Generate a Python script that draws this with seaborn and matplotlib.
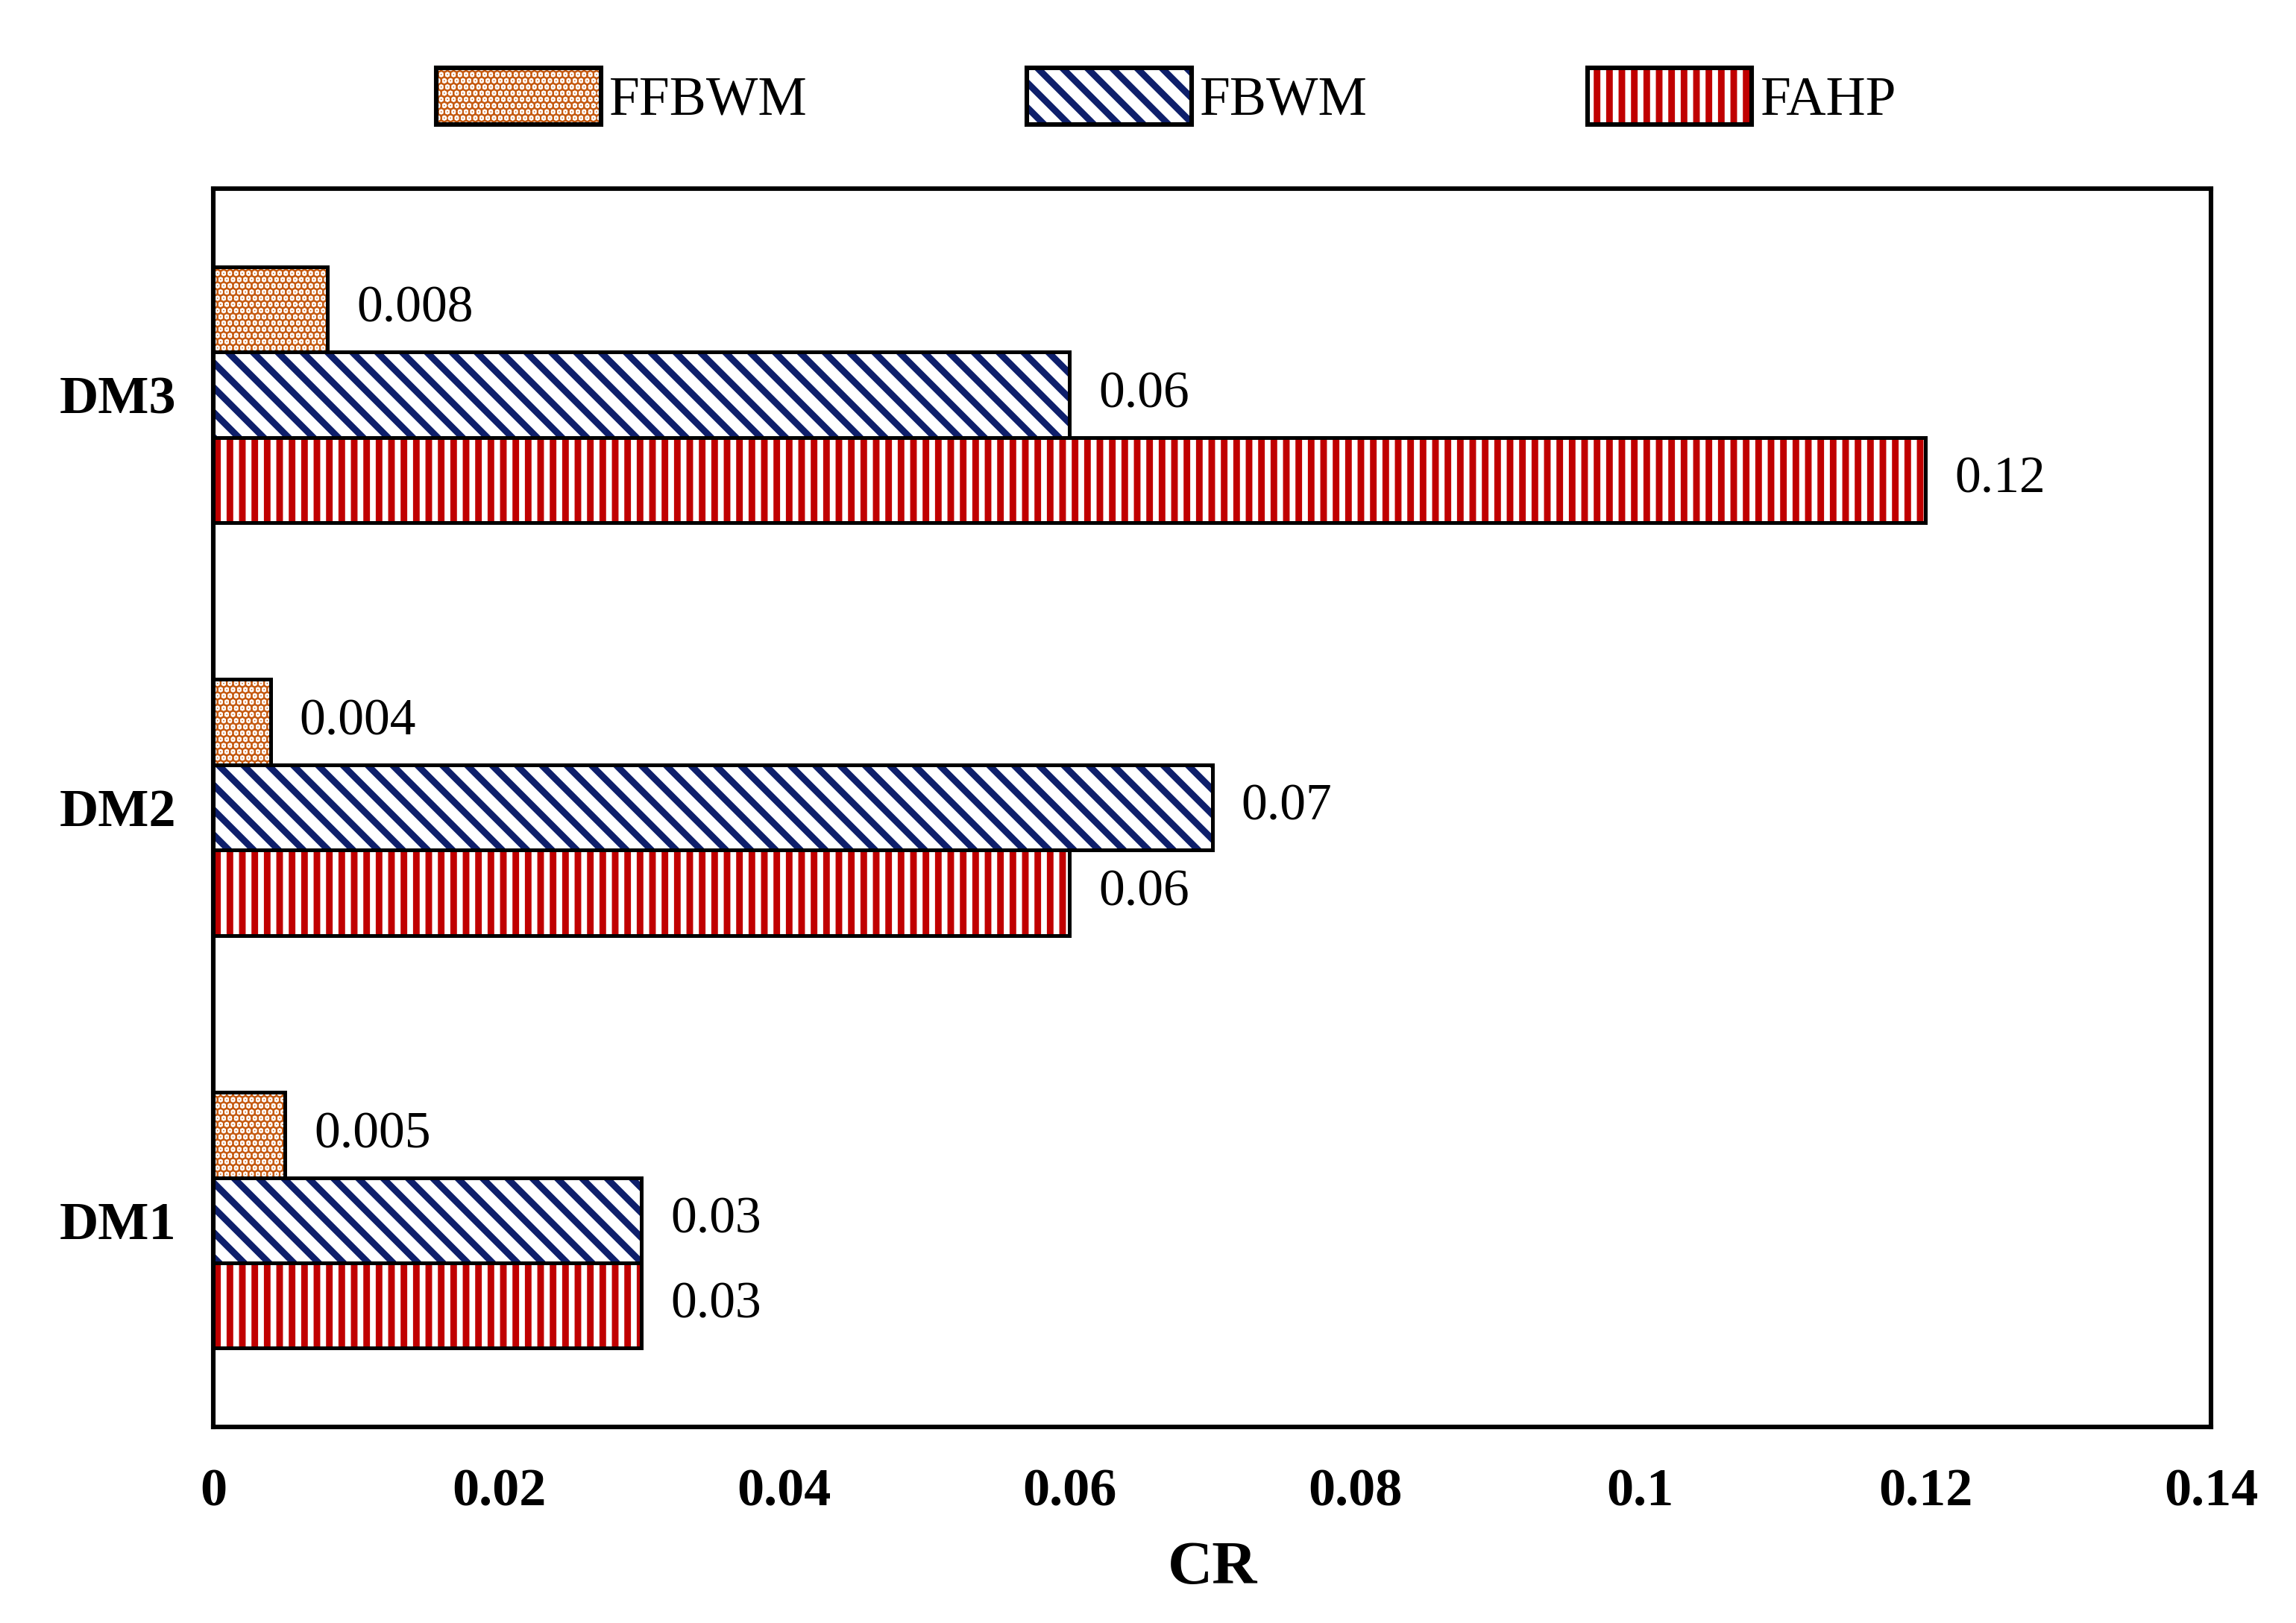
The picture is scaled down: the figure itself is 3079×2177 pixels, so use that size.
import pandas as pd
import numpy as np
import matplotlib.pyplot as plt
import seaborn as sns
from matplotlib.patches import Rectangle, Patch

# Data
decision_makers = ['DM3', 'DM2', 'DM1']
methods = ['FFBWM', 'FBWM', 'FAHP']
ffbwm = [0.008, 0.004, 0.005]
fbwm = [0.06, 0.07, 0.03]
fahp = [0.12, 0.06, 0.03]
x_ticks = [0, 0.02, 0.04, 0.06, 0.08, 0.1, 0.12, 0.14]
x_tick_labels = ['0', '0.02', '0.04', '0.06', '0.08', '0.1', '0.12', '0.14']

colors = {'FFBWM': '#C55A11', 'FBWM': '#0E1F6B', 'FAHP': '#C00000'}
hatches = {'FFBWM': '....', 'FBWM': '\\\\', 'FAHP': '||'}

cr = pd.DataFrame({
    'DM': decision_makers * 3,
    'Method': [m for m in methods for _ in decision_makers],
    'CR': ffbwm + fbwm + fahp,
})

sns.set_style('white')
plt.rcParams['font.family'] = ['Liberation Serif', 'DejaVu Serif']
plt.rcParams['text.color'] = 'black'
plt.rcParams['xtick.color'] = 'black'
plt.rcParams['ytick.color'] = 'black'
plt.rcParams['axes.labelcolor'] = 'black'
plt.rcParams['hatch.linewidth'] = 3.2

fig, ax = plt.subplots(figsize=(15.395, 10.885), dpi=200)
fig.subplots_adjust(left=0.093, right=0.963, top=0.884, bottom=0.121)

sns.barplot(data=cr, x='CR', y='DM', hue='Method', order=decision_makers,
            hue_order=methods, orient='h', width=0.62, legend=False, ax=ax)

# hatch layer + black outline
for method, cont in zip(methods, ax.containers):
    for bar in cont:
        bar.set_facecolor('white')
        bar.set_edgecolor(colors[method])
        bar.set_hatch(hatches[method])
        bar.set_linewidth(0)
        ax.add_patch(Rectangle(bar.get_xy(), bar.get_width(), bar.get_height(),
                               fill=False, edgecolor='black', linewidth=1.8))
    ax.bar_label(cont, labels=[f'{v:g}' for v in cont.datavalues],
                 padding=14, fontsize=25)

ax.set_xlim(0, 0.14)
ax.set_ylim(2.5, -0.5)
ax.set_xticks(x_ticks)
ax.set_xticklabels(x_tick_labels, fontweight='bold', fontsize=26)
for lbl in ax.get_yticklabels():
    lbl.set_fontweight('bold')
    lbl.set_fontsize(26)
ax.tick_params(axis='x', length=0, pad=20)
ax.tick_params(axis='y', length=0, pad=18)
ax.set_xlabel('CR', fontweight='bold', fontsize=30, labelpad=12)
ax.set_ylabel('')
for sp in ax.spines.values():
    sp.set_visible(True)
    sp.set_color('black')
    sp.set_linewidth(2.2)

# Legend
handles = []
for m in methods:
    handles.append((Patch(facecolor='white', edgecolor=colors[m], hatch=hatches[m], linewidth=0),
                    Patch(fill=False, edgecolor='black', linewidth=2.2)))
fig.legend(handles, methods, loc='center', bbox_to_anchor=(0.508, 0.94), ncol=3,
           frameon=False, fontsize=26.5, handlelength=3.0, handleheight=1.2,
           handletextpad=0.15, columnspacing=4.0)

plt.savefig('out.png', dpi=200)
